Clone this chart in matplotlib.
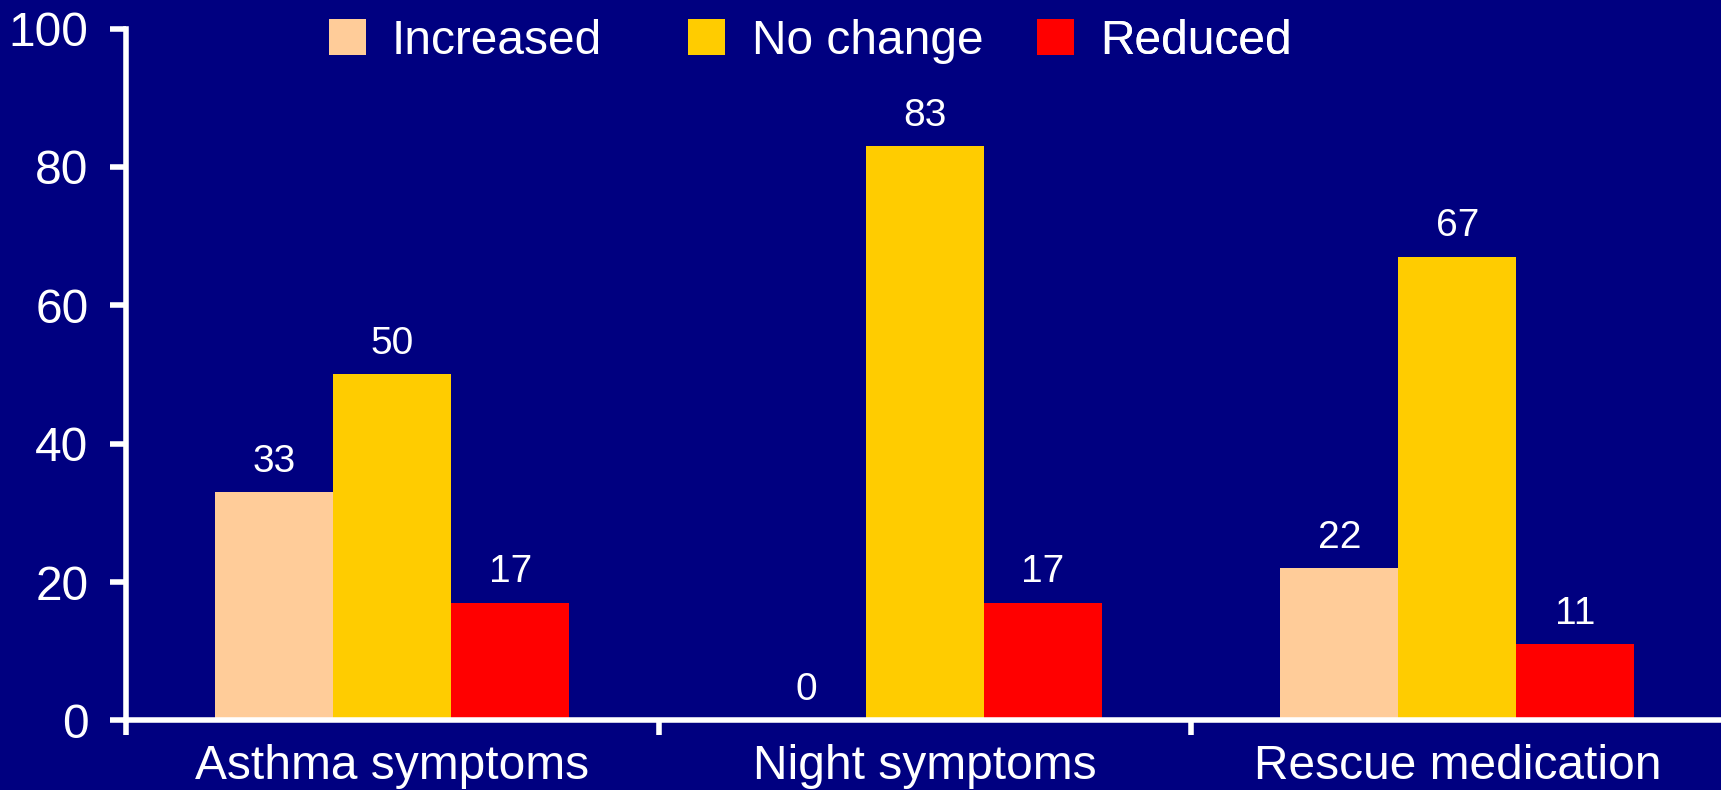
import matplotlib
matplotlib.use("Agg")
import matplotlib.pyplot as plt
from matplotlib.patches import Patch
import numpy as np

plt.rcParams["font.family"] = ["Liberation Sans", "DejaVu Sans"]

categories = ["Asthma symptoms", "Night symptoms", "Rescue medication"]
series_names = ["Increased", "No change", "Reduced"]
increased = [33, 0, 22]
no_change = [50, 83, 67]
reduced = [17, 17, 11]
y_ticks = [0, 20, 40, 60, 80, 100]

colors = ["#FFCC99", "#FFCC00", "#FF0000"]
navy = "#000080"

fig = plt.figure(figsize=(17.21, 7.90), dpi=100, facecolor=navy)
ax = fig.add_axes([0.0732, 0.0880, 0.9283, 0.8759], facecolor=navy)

x = np.arange(len(categories))
width = 0.2216
for i, (name, vals, col) in enumerate(zip(series_names, [increased, no_change, reduced], colors)):
    bars = ax.bar(x + (i - 1) * width, vals, width, color=col, label=name, linewidth=0)
    ax.bar_label(bars, labels=[str(v) for v in vals], padding=9, color="white", fontsize=28)

ax.set_xlim(-0.5, 2.5)
ax.set_ylim(0, 100)

for side in ["top", "right"]:
    ax.spines[side].set_visible(False)
for side in ["left", "bottom"]:
    ax.spines[side].set_color("white")
    ax.spines[side].set_linewidth(4)
    ax.spines[side].set_capstyle("projecting")

ax.set_yticks(y_ticks)
ax.set_yticklabels([str(t) for t in y_ticks])
ax.tick_params(axis="y", colors="white", labelsize=34.5, length=11.5, width=4, pad=15.5, direction="out")

# category boundaries carry the tick marks, centres carry the names
ax.set_xticks([-0.5, 0.5, 1.5])
ax.set_xticklabels([])
ax.set_xticks(x, minor=True)
ax.set_xticklabels(categories, minor=True)
ax.tick_params(axis="x", which="major", colors="white", length=11, width=4, direction="out")
ax.tick_params(axis="x", which="minor", colors="white", labelsize=34.5, length=0, pad=17)

# one legend entry per series, spaced across the top
legend_x = [0.127, 0.352, 0.570]
for name, col, lx in zip(series_names, colors, legend_x):
    leg = ax.legend(handles=[Patch(facecolor=col, edgecolor="none", label=name)],
                    loc="center left", bbox_to_anchor=(lx, 0.9812), frameon=False,
                    fontsize=34.5, handlelength=0.77, handleheight=0.77, handletextpad=0.55,
                    borderaxespad=0, borderpad=0)
    for t in leg.get_texts():
        t.set_color("white")
    ax.add_artist(leg)

fig.savefig("out.png", dpi=100, facecolor=navy)
